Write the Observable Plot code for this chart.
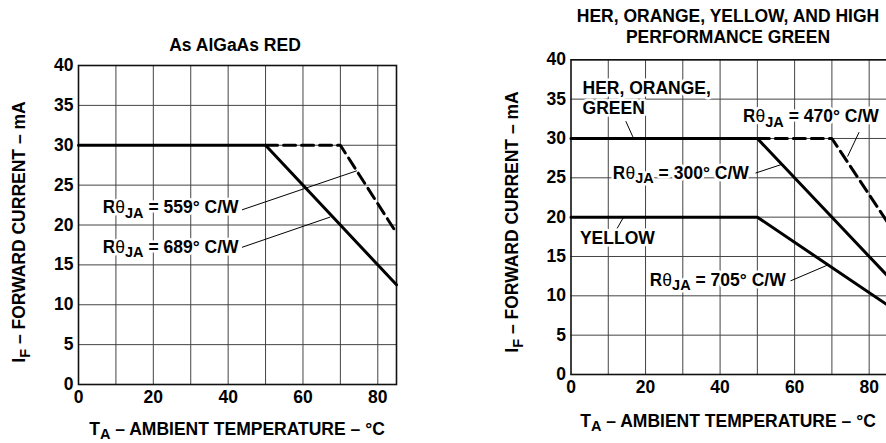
<!DOCTYPE html>
<html>
<head>
<meta charset="utf-8">
<script src="https://cdn.jsdelivr.net/npm/d3@7"></script>
<script src="https://cdn.jsdelivr.net/npm/@observablehq/plot@0.6"></script>
<style>
  html, body { margin: 0; padding: 0; background: #fff; }
  #wrap { position: relative; width: 886px; height: 443px; overflow: hidden; background: #fff; }
  #wrap svg { position: absolute; top: 0; max-width: none !important; }
</style>
</head>
<body>
<div id="wrap"></div>
<script>
// ---------- shared axes ----------
const xTicks = [0, 20, 40, 60, 80];
const xGrid = [10, 20, 30, 40, 50, 60, 70, 80];
const yTicks = [0, 5, 10, 15, 20, 25, 30, 35, 40];

// ---------- left panel: As AlGaAs RED ----------
const leftTitle = ["As AlGaAs RED"];
const red689T = [0, 50, 85];
const red689I = [30, 30, 12.5];
const red559T = [50, 70, 85];
const red559I = [30, 30, 19];
const leftLabelText = ["Rθ_{JA} = 559° C/W", "Rθ_{JA} = 689° C/W"];
const leftLabelT = [42.8, 42.8];
const leftLabelI = [22.2, 17.2];
const leftLeaderT1 = [43.7, 43.7];
const leftLeaderI1 = [21.9, 17.2];
const leftLeaderT2 = [74.4, 67.3];
const leftLeaderI2 = [26.8, 21.0];

// ---------- right panel: HER, ORANGE, YELLOW, HIGH PERF GREEN ----------
const rightTitle = ["HER, ORANGE, YELLOW, AND HIGH", "PERFORMANCE GREEN"];
const her300T = [0, 50, 85];
const her300I = [30, 30, 12.5];
const her470T = [50, 70, 85];
const her470I = [30, 30, 19.3];
const yel705T = [0, 50, 85];
const yel705I = [20, 20, 8.8];
const rightEndText = ["Rθ_{JA} = 470° C/W", "Rθ_{JA} = 300° C/W", "Rθ_{JA} = 705° C/W"];
const rightEndT = [82.6, 47.7, 57.6];
const rightEndI = [32.8, 25.6, 12.0];
const rightStartText = ["HER, ORANGE,", "GREEN", "YELLOW"];
const rightStartT = [3.1, 3.1, 2.4];
const rightStartI = [36.4, 33.8, 17.3];
const rightLeaderT1 = [77.3, 49.5, 58.9, 12.3, 14.7];
const rightLeaderI1 = [30.8, 25.6, 11.9, 18.5, 32.2];
const rightLeaderT2 = [74.2, 56.5, 68.8, 14.1, 16.6];
const rightLeaderI2 = [27.7, 26.7, 13.9, 20.0, 30.2];

const xLabel = "T_{A} – AMBIENT TEMPERATURE – °C";
const yLabel = "I_{F} – FORWARD CURRENT – mA";

const FONT = "'Liberation Sans', Arial, Helvetica, sans-serif";
const FS = 17.5;
const toPts = (ts, is) => ts.map((t, k) => ({t, i: is[k]}));
const toLinks = (a, b, c, d) => a.map((v, k) => ({t1: v, i1: b[k], t2: c[k], i2: d[k]}));
const toLabels = (txt, ts, is) => txt.map((s, k) => ({s, t: ts[k], i: is[k]}));

// rich text: "_{..}" subscripts, θ in regular weight
function rich(sel, str) {
  sel.text(null);
  const parts = str.split(/(_\{[^}]*\})/).filter(p => p.length);
  let shifted = false;
  for (const p of parts) {
    if (p.startsWith("_{")) {
      sel.append("tspan").attr("dy", 4.5).attr("font-size", "14.5px").text(p.slice(2, -1));
      shifted = true;
    } else {
      const segs = p.split(/(θ)/).filter(s => s.length);
      segs.forEach(s => {
        const t = sel.append("tspan").text(s);
        if (s === "θ") t.attr("font-weight", "normal");
        if (shifted) { t.attr("dy", -4.5); shifted = false; }
      });
    }
  }
}

function panel(opts) {
  const svg = Plot.plot({
    width: opts.width, height: 443,
    marginLeft: opts.ml, marginRight: opts.mr, marginTop: opts.mt, marginBottom: opts.mb,
    style: {fontFamily: FONT, fontSize: FS + "px", fontWeight: "bold", color: "#000", background: "#fff", overflow: "visible"},
    x: {domain: [0, 85], ticks: xTicks, tickSize: 0, tickPadding: 6, label: null},
    y: {domain: [0, 40], ticks: yTicks, tickSize: 0, tickPadding: 5, label: null},
    marks: [
      Plot.ruleX(xGrid, {stroke: "#444", strokeWidth: 1}),
      Plot.ruleY(yTicks, {stroke: "#444", strokeWidth: 1}),
      Plot.frame({stroke: "#111", strokeWidth: 1.6}),
      Plot.link(opts.links, {x1: "t1", y1: "i1", x2: "t2", y2: "i2", stroke: "#000", strokeWidth: 1}),
      ...opts.lines,
      Plot.text(opts.endLabels, {x: "t", y: "i", text: "s", textAnchor: "end", fill: "#000",
        stroke: "#fff", strokeWidth: 5, paintOrder: "stroke", fontSize: FS, fontWeight: "bold"}),
      Plot.text(opts.startLabels, {x: "t", y: "i", text: "s", textAnchor: "start", fill: "#000",
        stroke: "#fff", strokeWidth: 5, paintOrder: "stroke", fontSize: FS, fontWeight: "bold"})
    ]
  });
  svg.style.left = opts.left + "px";
  const s = d3.select(svg);
  s.selectAll("text").each(function () {
    const tc = this.textContent;
    if (tc.includes("_{") && this.childElementCount === 0) rich(d3.select(this), tc);
  });
  // titles
  opts.title.forEach((line, k) => {
    s.append("text").attr("x", opts.titleX).attr("y", opts.titleY + k * opts.titleLead)
      .attr("text-anchor", "middle").attr("font-family", FONT).attr("font-weight", "bold")
      .attr("font-size", FS + "px").attr("fill", "#000").text(line);
  });
  // x axis label
  const xl = s.append("text").attr("x", opts.xlX).attr("y", opts.xlY)
    .attr("text-anchor", "middle").attr("font-family", FONT).attr("font-weight", "bold")
    .attr("font-size", FS + "px").attr("fill", "#000");
  rich(xl, xLabel);
  // y axis label
  const yl = s.append("text").attr("transform", `translate(${opts.ylX},${opts.ylY}) rotate(-90)`)
    .attr("text-anchor", "middle").attr("font-family", FONT).attr("font-weight", "bold")
    .attr("font-size", FS + "px").attr("fill", "#000");
  rich(yl, yLabel);
  return svg;
}

const lineStyle = {x: "t", y: "i", stroke: "#000", strokeWidth: 3, strokeLinejoin: "miter"};
const dashStyle = {...lineStyle, strokeDasharray: "12,6"};

const wrap = document.getElementById("wrap");

wrap.appendChild(panel({
  left: 0, width: 440, ml: 78, mr: 44, mt: 65, mb: 59,
  title: leftTitle, titleX: 235, titleY: 50.7, titleLead: 21.6,
  xlX: 237, xlY: 434.5, ylX: 25, ylY: 232,
  links: toLinks(leftLeaderT1, leftLeaderI1, leftLeaderT2, leftLeaderI2),
  lines: [
    Plot.line(toPts(red559T, red559I), dashStyle),
    Plot.line(toPts(red689T, red689I), lineStyle)
  ],
  endLabels: toLabels(leftLabelText, leftLabelT, leftLabelI),
  startLabels: []
}));

wrap.appendChild(panel({
  left: 440, width: 460, ml: 130.5, mr: 12.7, mt: 59.3, mb: 69,
  title: rightTitle, titleX: 288, titleY: 21.7, titleLead: 21.6,
  xlX: 288, xlY: 426.5, ylX: 78.3, ylY: 222,
  links: toLinks(rightLeaderT1, rightLeaderI1, rightLeaderT2, rightLeaderI2),
  lines: [
    Plot.line(toPts(her470T, her470I), dashStyle),
    Plot.line(toPts(her300T, her300I), lineStyle),
    Plot.line(toPts(yel705T, yel705I), lineStyle)
  ],
  endLabels: toLabels(rightEndText, rightEndT, rightEndI),
  startLabels: toLabels(rightStartText, rightStartT, rightStartI)
}));
</script>
</body>
</html>
